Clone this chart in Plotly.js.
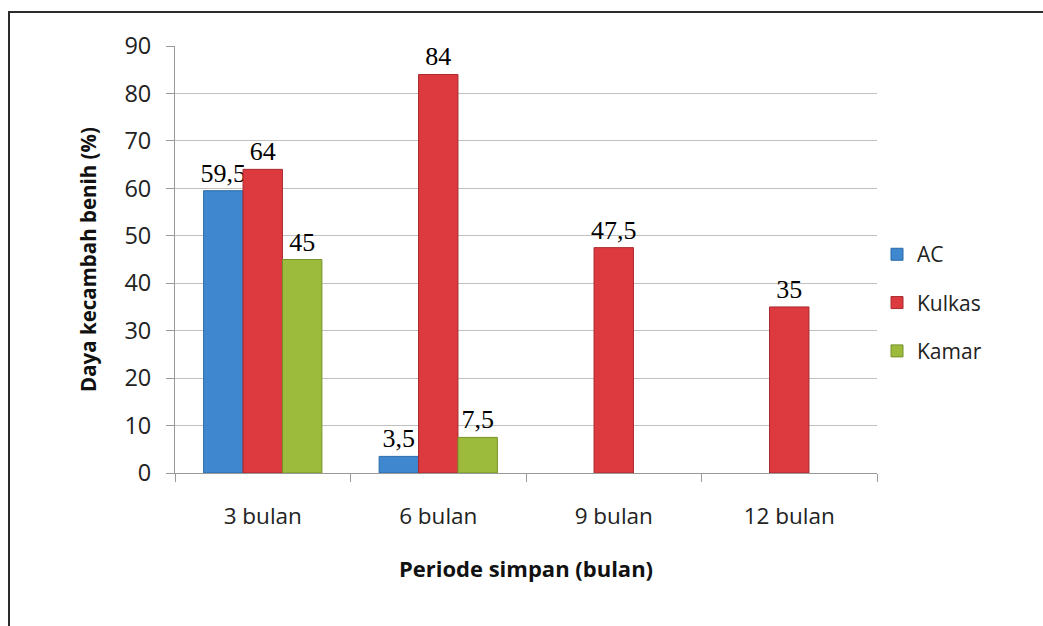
<!DOCTYPE html>
<html>
<head>
<meta charset="utf-8">
<script src="https://cdn.plot.ly/plotly-3.0.1.min.js"></script>
<style>
  html, body { margin: 0; padding: 0; background: #fff; }
  #wrap { position: relative; width: 1043px; height: 626px; }
  #chart { position: absolute; left: 0; top: 0; width: 1043px; height: 626px; }
  #frame { position: absolute; left: 8px; top: 11px; width: 1100px; height: 700px;
           border-left: 2px solid #2b2b2b; border-top: 2px solid #2b2b2b; pointer-events: none; }
</style>
</head>
<body>
<div id="wrap">
  <div id="chart"></div>
  <div id="frame"></div>
</div>
<script>
const categories = ["3 bulan", "6 bulan", "9 bulan", "12 bulan"];
const seriesNames = ["AC", "Kulkas", "Kamar"];
const acValues = [59.5, 3.5, null, null];
const kulkasValues = [64, 84, 47.5, 35];
const kamarValues = [45, 7.5, null, null];
const yTicks = [0, 10, 20, 30, 40, 50, 60, 70, 80, 90];

const fills = ["#3f87cf", "#dd3a3f", "#9cbb3c"];
const lines = ["#2a6aa8", "#a82a2e", "#76912a"];
const allValues = [acValues, kulkasValues, kamarValues];

const fmt = v => (v === null ? "" : String(v).replace(".", ","));
const SANS = "Open Sans, DejaVu Sans, sans-serif";

const traces = allValues.map((vals, i) => ({
  type: "bar",
  name: seriesNames[i],
  legendgroup: "g" + i,
  x: categories,
  y: vals,
  text: vals.map(fmt),
  textposition: "outside",
  constraintext: "none",
  cliponaxis: false,
  textfont: { family: "Liberation Serif, Times New Roman, serif", size: 26, color: "#000" },
  marker: { color: fills[i], line: { color: lines[i], width: 1 } },
  hoverinfo: "skip"
}));

const layout = {
  width: 1043, height: 626,
  margin: { l: 175, r: 166, t: 46, b: 153 },
  paper_bgcolor: "#fff", plot_bgcolor: "#fff",
  barmode: "group",
  bargap: 0.326, bargroupgap: 0,
  font: { family: SANS, color: "#222" },
  showlegend: true,
  legend: {
    x: 1.0, xanchor: "left", y: 0.399, yanchor: "middle",
    font: { size: 21, family: SANS, color: "#222" },
    traceorder: "grouped", tracegroupgap: 18,
    itemwidth: 30
  },
  xaxis: {
    type: "category",
    categoryorder: "array", categoryarray: categories,
    tickson: "boundaries",
    ticks: "outside", ticklen: 8, tickcolor: "#999",
    ticklabelstandoff: 23,
    showline: true, linecolor: "#999", linewidth: 1,
    tickfont: { size: 22.5, family: SANS, color: "#222" },
    title: { text: "<b>Periode simpan (bulan)</b>", font: { size: 22, color: "#111" }, standoff: 31 },
    automargin: false
  },
  yaxis: {
    range: [0, 90],
    tickvals: yTicks,
    ticks: "outside", ticklen: 8, tickcolor: "#999",
    ticklabelstandoff: 10,
    showgrid: true, gridcolor: "#c0c0c0", gridwidth: 1,
    showline: true, linecolor: "#999", linewidth: 1,
    zeroline: false,
    tickfont: { size: 23.5, family: SANS, color: "#222" },
    title: { text: "<b>Daya kecambah benih (%)</b>", font: { size: 20.5, color: "#111" }, standoff: 22 },
    automargin: false
  }
};

Plotly.newPlot("chart", traces, layout, { staticPlot: true, displayModeBar: false });
</script>
</body>
</html>
